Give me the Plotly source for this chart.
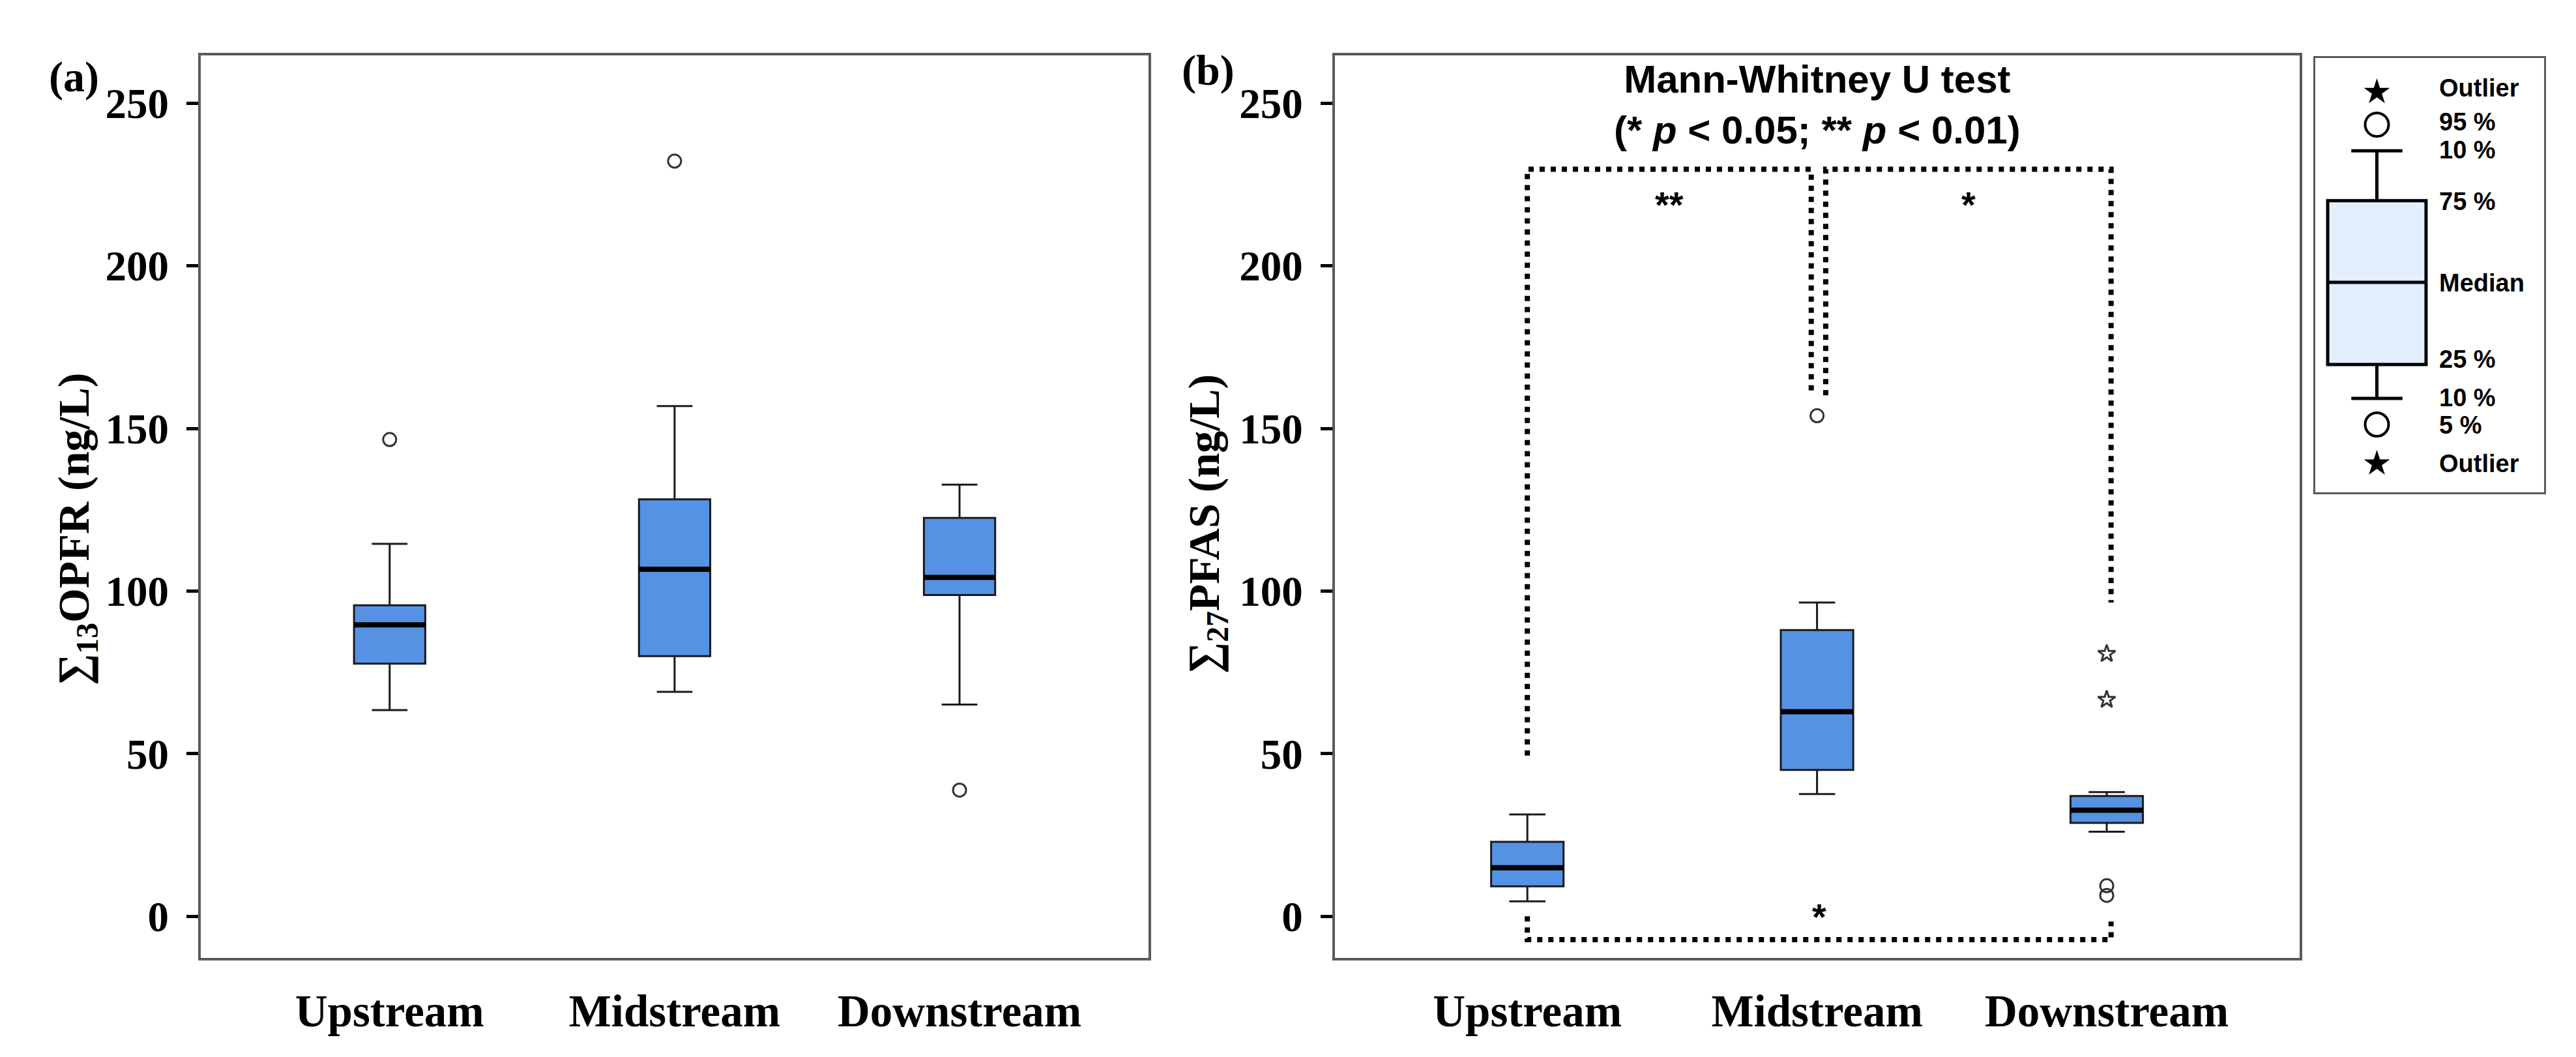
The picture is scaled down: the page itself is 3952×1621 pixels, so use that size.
import plotly.graph_objects as go

# --- datos ---
CATEGORIES = ["Upstream", "Midstream", "Downstream"]

# (a) suma de 13 OPFR (ng/L)
OPFR_LOWER = [63.4, 69.0, 65.1]
OPFR_Q1 = [77.7, 80.0, 98.8]
OPFR_MEDIAN = [89.6, 106.7, 104.2]
OPFR_Q3 = [95.6, 128.2, 122.5]
OPFR_UPPER = [114.5, 156.9, 132.7]
OPFR_OUT_SITE = ["Upstream", "Midstream", "Downstream"]
OPFR_OUT_VALUE = [146.6, 232.2, 38.8]

# (b) suma de 27 PFAS (ng/L)
PFAS_LOWER = [4.6, 37.6, 26.0]
PFAS_Q1 = [9.2, 45.0, 28.7]
PFAS_MEDIAN = [14.9, 62.9, 32.6]
PFAS_Q3 = [22.9, 88.0, 37.0]
PFAS_UPPER = [31.3, 96.5, 38.2]
PFAS_CIRCLE_SITE = ["Midstream", "Downstream", "Downstream"]
PFAS_CIRCLE_VALUE = [153.9, 9.4, 6.4]
PFAS_STAR_SITE = ["Downstream", "Downstream"]
PFAS_STAR_VALUE = [80.7, 66.6]

# Mann-Whitney U: pares comparados, marca, nivel del corchete, extremos de las patas
PAIRS = [("Upstream", "Midstream"), ("Midstream", "Downstream"), ("Upstream", "Downstream")]
PAIR_LABELS = ["**", "*", "*"]
PAIR_LEVEL = [229.7, 229.7, -7.2]
PAIR_LEG_ENDS = [(49.4, 160.2), (160.2, 96.5), (0.0, -1.6)]

# leyenda esquematica
KEY_LABELS = ["Outlier", "95 %", "10 %", "75 %", "Median", "25 %", "10 %", "5 %", "Outlier"]
KEY_LABEL_LEVELS = [0.931, 0.852, 0.788, 0.669, 0.482, 0.306, 0.218, 0.155, 0.066]
KEY_BOX = dict(lowerfence=0.216, q1=0.294, median=0.483, q3=0.671, upperfence=0.786)
KEY_CIRCLES = [0.846, 0.156]
KEY_STARS = [0.921, 0.066]

# --- estilo ---
BOX_FILL = "#5592E3"
BOX_LINE = "#1a1a1a"
FRAME = "#5a5a5a"
SERIF = "Liberation Serif"
SANS = "Liberation Sans"
BOX_W = 0.25
# desplazamiento de las patas (izquierda, derecha) de cada corchete
LEG_SHIFT = [(0.0, -0.02), (0.03, 0.015), (0.0, 0.015)]

pos = {c: i for i, c in enumerate(CATEGORIES)}
xs = list(range(len(CATEGORIES)))

fig = go.Figure()


def add_boxes(lower, q1, med, q3, upper, xa, ya):
    fig.add_trace(go.Box(
        x=xs, q1=q1, median=med, q3=q3, lowerfence=lower, upperfence=upper,
        width=BOX_W, whiskerwidth=0.5, fillcolor=BOX_FILL,
        line=dict(color=BOX_LINE, width=3), boxpoints=False,
        xaxis=xa, yaxis=ya, hoverinfo="skip"))
    # mediana gruesa
    fig.add_trace(go.Box(
        x=xs, q1=med, median=med, q3=med, lowerfence=med, upperfence=med,
        width=BOX_W, whiskerwidth=0, fillcolor="rgba(0,0,0,0)",
        line=dict(color="black", width=8), boxpoints=False,
        xaxis=xa, yaxis=ya, hoverinfo="skip"))


add_boxes(OPFR_LOWER, OPFR_Q1, OPFR_MEDIAN, OPFR_Q3, OPFR_UPPER, "x", "y")
add_boxes(PFAS_LOWER, PFAS_Q1, PFAS_MEDIAN, PFAS_Q3, PFAS_UPPER, "x2", "y2")

circle = dict(symbol="circle-open", size=20, color="#333333", line=dict(width=3, color="#333333"))
fig.add_trace(go.Scatter(x=[pos[s] for s in OPFR_OUT_SITE], y=OPFR_OUT_VALUE, mode="markers",
                         marker=circle, xaxis="x", yaxis="y"))
fig.add_trace(go.Scatter(x=[pos[s] for s in PFAS_CIRCLE_SITE], y=PFAS_CIRCLE_VALUE, mode="markers",
                         marker=circle, xaxis="x2", yaxis="y2"))
fig.add_trace(go.Scatter(x=[pos[s] for s in PFAS_STAR_SITE], y=PFAS_STAR_VALUE, mode="markers",
                         marker=dict(symbol="star-open", size=20, color="#333333",
                                     line=dict(width=3, color="#333333")),
                         xaxis="x2", yaxis="y2"))

# corchetes de significancia
annotations = []
for (a, b), lab, lvl, (ea, eb), (sa, sb) in zip(PAIRS, PAIR_LABELS, PAIR_LEVEL, PAIR_LEG_ENDS, LEG_SHIFT):
    xa = pos[a] + sa
    xb = pos[b] + sb
    fig.add_trace(go.Scatter(x=[xa, xa, xb, xb], y=[ea, lvl, lvl, eb], mode="lines",
                             line=dict(color="black", width=8, dash="8px,9px"),
                             xaxis="x2", yaxis="y2", hoverinfo="skip"))
    above = lvl > 0
    annotations.append(dict(x=(xa + xb) / 2, y=lvl, xref="x2", yref="y2",
                            text="<b>%s</b>" % lab, showarrow=False, xanchor="center",
                            yanchor="top" if above else "bottom",
                            yshift=-20 if above else 2,
                            font=dict(family=SANS, size=56, color="black")))

annotations.append(dict(x=1, y=249.5, xref="x2", yref="y2", showarrow=False,
                        text="<b>Mann-Whitney U test</b><br><b>(* <i>p</i> < 0.05; ** <i>p</i> < 0.01)</b>",
                        font=dict(family=SANS, size=60, color="black"),
                        xanchor="center", yanchor="middle"))

# leyenda esquematica
fig.add_trace(go.Box(x=[0.27], q1=[KEY_BOX["q1"]], median=[KEY_BOX["median"]], q3=[KEY_BOX["q3"]],
                     lowerfence=[KEY_BOX["lowerfence"]], upperfence=[KEY_BOX["upperfence"]],
                     width=0.43, whiskerwidth=0.52, fillcolor="#E3EFFC",
                     line=dict(color="black", width=5), boxpoints=False,
                     xaxis="x3", yaxis="y3", hoverinfo="skip"))
fig.add_trace(go.Scatter(x=[0.27] * len(KEY_CIRCLES), y=KEY_CIRCLES, mode="markers",
                         marker=dict(symbol="circle-open", size=36, color="black", line=dict(width=4)),
                         xaxis="x3", yaxis="y3"))
fig.add_trace(go.Scatter(x=[0.27] * len(KEY_STARS), y=KEY_STARS, mode="markers",
                         marker=dict(symbol="star", size=30, color="black"),
                         xaxis="x3", yaxis="y3"))
for lab, lv in zip(KEY_LABELS, KEY_LABEL_LEVELS):
    annotations.append(dict(x=0.535, y=lv, xref="x3", yref="y3", text="<b>%s</b>" % lab,
                            showarrow=False, xanchor="left", yanchor="middle",
                            font=dict(family=SANS, size=38, color="black")))

# rotulos de panel y titulos de eje
for x, y, txt, ang in [(0.0266, 0.932, "<b>(a)</b>", 0),
                       (0.4671, 0.9383, "<b>(b)</b>", 0),
                       (0.0276, 0.5046, "<b>∑<sub>13</sub>OPFR (ng/L)</b>", -90),
                       (0.4664, 0.5089, "<b>∑<sub>27</sub>PFAS (ng/L)</b>", -90)]:
    annotations.append(dict(x=x, y=y, xref="paper", yref="paper", text=txt, textangle=ang,
                            showarrow=False, xanchor="center", yanchor="middle",
                            font=dict(family=SERIF, size=66 if ang == 0 else 68, color="black")))

frame = dict(showline=True, mirror=True, linecolor=FRAME, linewidth=4,
             showgrid=False, zeroline=False)
xcat = dict(frame, tickvals=xs, ticktext=CATEGORIES, ticks="", ticklabelstandoff=18,
            tickfont=dict(family=SERIF, size=69, color="black", weight="bold"))
yval = dict(frame, range=[-12.9, 264.7], tickvals=[0, 50, 100, 150, 200, 250],
            ticks="outside", ticklen=18, tickwidth=5, tickcolor="black", ticklabelstandoff=14,
            tickfont=dict(family=SERIF, size=65, color="black", weight="bold"))
ydom = [0.0984, 0.9525]

fig.update_layout(
    width=3952, height=1621,
    margin=dict(l=0, r=0, t=0, b=0),
    paper_bgcolor="white", plot_bgcolor="white",
    showlegend=False, boxmode="overlay",
    xaxis=dict(xcat, domain=[0.0759, 0.4438], range=[-0.663, 2.663], anchor="y"),
    yaxis=dict(yval, domain=ydom, anchor="x"),
    xaxis2=dict(xcat, domain=[0.5161, 0.8907], range=[-0.665, 2.666], anchor="y2"),
    yaxis2=dict(yval, domain=ydom, anchor="x2"),
    xaxis3=dict(frame, linewidth=3, domain=[0.8967, 0.9855], range=[0, 1], anchor="y3",
                showticklabels=False, ticks=""),
    yaxis3=dict(frame, linewidth=3, domain=[0.5392, 0.9503], range=[0, 1], anchor="x3",
                showticklabels=False, ticks=""),
    annotations=annotations,
)

fig.write_html("out.html")
